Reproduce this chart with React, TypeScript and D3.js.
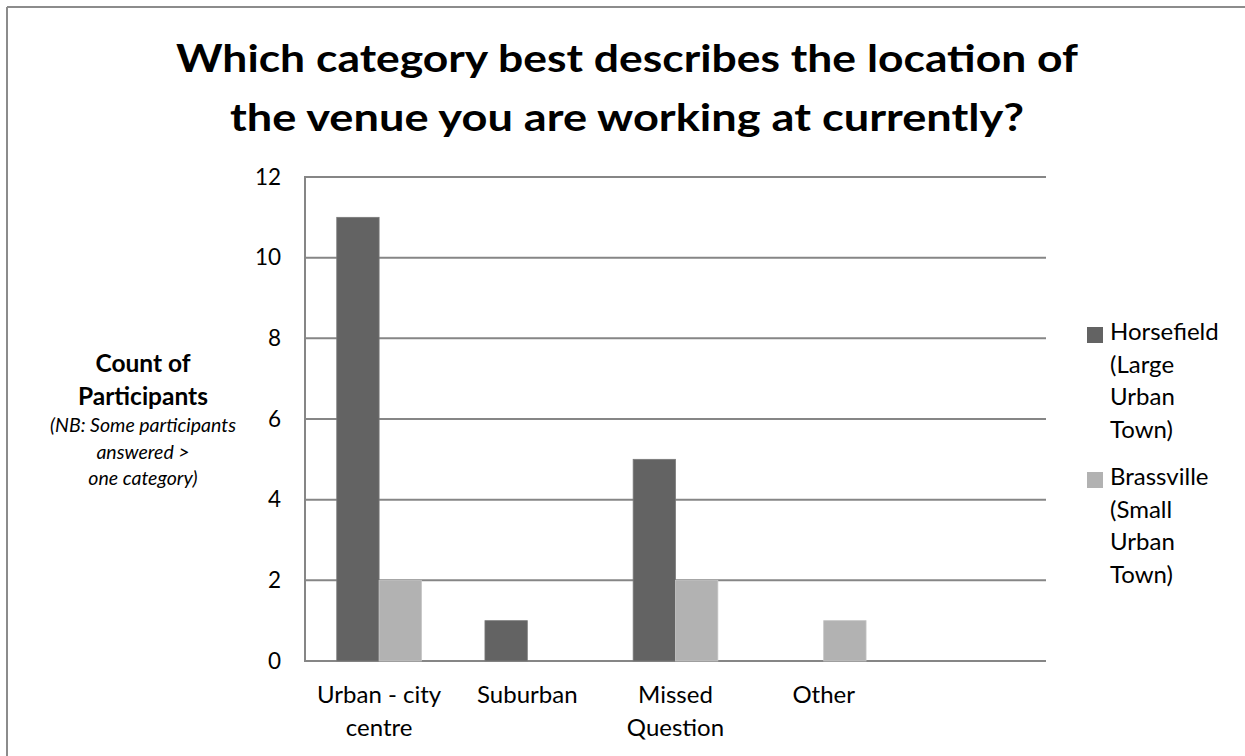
import React from "react";
import * as d3 from "d3";

const categories = ["Urban - city|centre", "Suburban", "Missed|Question", "Other", ""];
const seriesNames = ["Horsefield", "Brassville"];
const horsefield = [11, 1, 5, 0, 0];
const brassville = [2, 0, 2, 1, 0];
const yTicks = [0, 2, 4, 6, 8, 10, 12];
const legendLines = [
  ["Horsefield", "(Large", "Urban", "Town)"],
  ["Brassville", "(Small", "Urban", "Town)"],
];
const titleLines = ["Which category best describes the location of", "the venue you are working at currently?"];
const yTitle = ["Count of", "Participants"];
const yNote = ["(NB: Some participants", "answered >", "one category)"];

const colors = ["#636363", "#b2b2b2"];
const FONT = "Lato, 'Open Sans', sans-serif";

export default function App() {
  const W = 1245, H = 756;
  const left = 305, right = 1046, top = 177, bottom = 661;
  const x0 = d3.scaleBand<string>().domain(categories.map((c, i) => c + "#" + i)).range([left, right]).padding(0);
  const x1 = d3.scaleBand<string>().domain(seriesNames).range([0, x0.bandwidth()]).paddingInner(0).paddingOuter(0.75);
  const y = d3.scaleLinear().domain([0, 12]).range([bottom, top]);
  const values = [horsefield, brassville];

  return (
    <svg width={W} height={H} style={{ position: "absolute", left: 0, top: 0, background: "#fff" }} fontFamily={FONT}>
      <rect x={0} y={0} width={W} height={H} fill="#fff" />
      <line x1={7} y1={7} x2={W} y2={7} stroke="#8c8c8c" strokeWidth={2} />
      <line x1={7} y1={7} x2={7} y2={H} stroke="#8c8c8c" strokeWidth={2} />
      {titleLines.map((t, i) => (
        <text key={i} x={627} y={72 + i * 59} textAnchor="middle" fontWeight="bold" fontSize={38} fill="#000"
          textLength={i === 0 ? 902 : 794} lengthAdjust="spacingAndGlyphs">{t}</text>
      ))}
      {yTicks.map((t) => (
        <g key={t}>
          <line x1={left} x2={right} y1={y(t)} y2={y(t)} stroke="#868686" strokeWidth={2} />
          <text x={281} y={y(t) + 7.5} textAnchor="end" fontSize={22.5} fill="#000">{t}</text>
        </g>
      ))}
      <line x1={left} x2={left} y1={top - 1} y2={bottom + 1} stroke="#868686" strokeWidth={2} />
      {categories.map((c, i) => {
        const key = c + "#" + i;
        const bx = x0(key)!;
        return (
          <g key={key}>
            {values.map((vals, s) => vals[i] > 0 ? (
              <rect key={s} x={bx + x1(seriesNames[s])!} y={y(vals[i])} width={x1.bandwidth()} height={y(0) - y(vals[i])}
                fill={colors[s]} stroke={s === 0 ? "#7a7a7a" : "#c4c4c4"} strokeWidth={0.8} />
            ) : null)}
            {c.split("|").map((ln, j) => ln ? (
              <text key={j} x={bx + x0.bandwidth() / 2} y={703 + j * 33} textAnchor="middle" fontSize={24} fill="#000">{ln}</text>
            ) : null)}
          </g>
        );
      })}
      {yTitle.map((t, i) => (
        <text key={t} x={143} y={372 + i * 33} textAnchor="middle" fontWeight="bold" fontSize={24.5} fill="#000">{t}</text>
      ))}
      {yNote.map((t, i) => (
        <text key={t} x={143} y={432 + i * 26.5} textAnchor="middle" fontStyle="italic" fontSize={19.5} fill="#000">{t}</text>
      ))}
      {legendLines.map((lines, s) => (
        <g key={s}>
          <rect x={1087} y={327 + s * 145} width={16} height={16} fill={colors[s]} />
          {lines.map((ln, j) => (
            <text key={j} x={1110} y={340 + s * 145 + j * 32.5} fontSize={24} fill="#000">{ln}</text>
          ))}
        </g>
      ))}
    </svg>
  );
}
